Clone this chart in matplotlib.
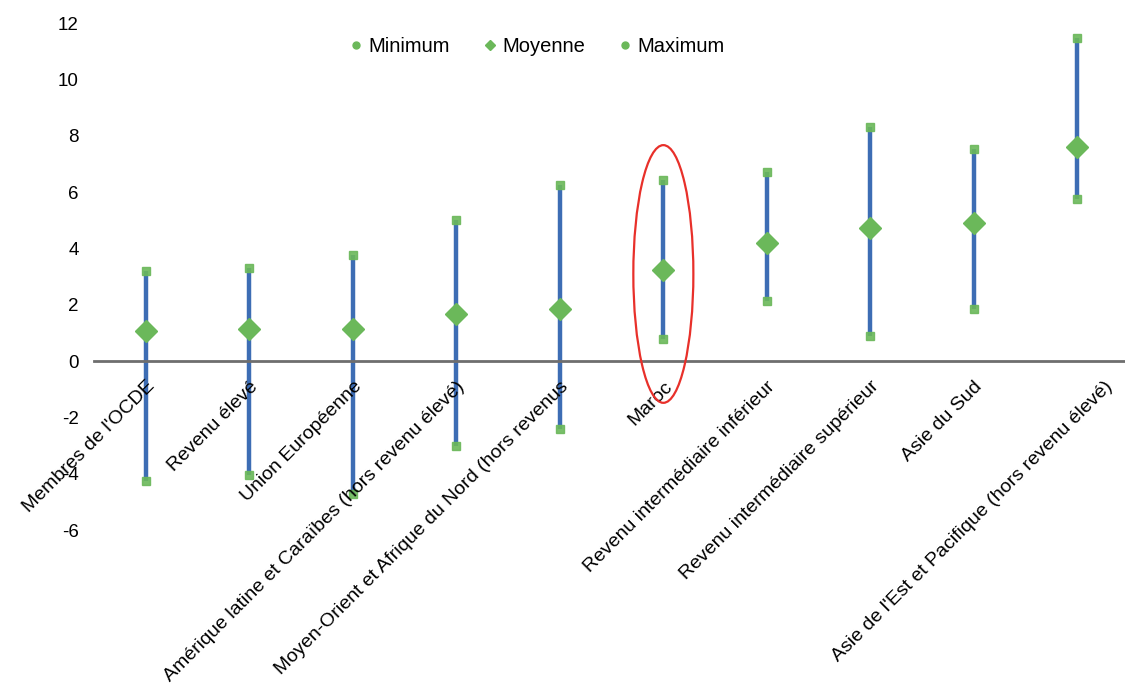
import matplotlib
matplotlib.use("Agg")
import matplotlib.pyplot as plt
from matplotlib.lines import Line2D
from matplotlib.patches import Ellipse

plt.rcParams["font.family"] = ["Liberation Sans", "DejaVu Sans"]

categories = [
    "Membres de l'OCDE",
    "Revenu élevé",
    "Union Européenne",
    "Amérique latine et Caraïbes (hors revenu élevé)",
    "Moyen-Orient et Afrique du Nord (hors revenus",
    "Maroc",
    "Revenu intermédiaire inférieur",
    "Revenu intermédiaire supérieur",
    "Asie du Sud",
    "Asie de l'Est et Pacifique (hors revenu élevé)",
]
minimum = [-4.25, -4.05, -4.7, -3.0, -2.4, 0.8, 2.15, 0.9, 1.85, 5.75]
moyenne = [1.08, 1.14, 1.15, 1.68, 1.86, 3.23, 4.2, 4.72, 4.92, 7.62]
maximum = [3.22, 3.3, 3.76, 5.03, 6.27, 6.43, 6.71, 8.33, 7.53, 11.47]
yticks = [-6, -4, -2, 0, 2, 4, 6, 8, 10, 12]

GREEN = "#6bb85a"
BLUE = "#3d6db4"

fig = plt.figure(figsize=(11.25, 6.86), dpi=100)
ax = fig.add_axes([0.0836, 0.227, 0.9164, 0.739])

x = list(range(len(categories)))
ax.vlines(x, minimum, maximum, color=BLUE, lw=3.2, zorder=2)
ax.plot(x, minimum, ls="none", marker="s", ms=6, color=GREEN, alpha=0.9, zorder=3)
ax.plot(x, maximum, ls="none", marker="s", ms=6, color=GREEN, alpha=0.9, zorder=3)
ax.plot(x, moyenne, ls="none", marker="D", ms=11, color=GREEN, zorder=4)

# highlight Morocco
i = categories.index("Maroc")
ax.add_patch(Ellipse((i, 3.1), width=0.58, height=9.15, fill=False,
                     edgecolor="#e8302a", lw=1.6, zorder=5))

ax.set_xlim(-0.5, 9.46)
ax.set_ylim(-6, 12)
ax.set_yticks(yticks)
ax.set_yticklabels([str(t) for t in yticks], fontsize=13.5)
ax.tick_params(axis="y", length=0, pad=11)

ax.spines["bottom"].set_position(("data", 0))
ax.spines["bottom"].set_color("#6e6e6e")
ax.spines["bottom"].set_linewidth(2)
for s in ("left", "top", "right"):
    ax.spines[s].set_visible(False)

# category labels hang from the zero line; the last one sits a bit to the right
ax.set_xticks(x)
ax.set_xticklabels([])
ax.tick_params(axis="x", length=0)
for xi, name in zip(x, categories):
    dx = 19 if xi == x[-1] else 0
    ax.annotate(name, xy=(xi, 0), xytext=(dx, -12), textcoords="offset points",
                rotation=45, ha="right", va="top", rotation_mode="anchor",
                fontsize=14.0, annotation_clip=False)

handles = [
    Line2D([], [], ls="none", marker="o", ms=5, color=GREEN, label="Minimum"),
    Line2D([], [], ls="none", marker="D", ms=5, color=GREEN, label="Moyenne"),
    Line2D([], [], ls="none", marker="o", ms=5, color=GREEN, label="Maximum"),
]
ax.legend(handles=handles, loc="center", bbox_to_anchor=(0.428, 0.955), ncol=3,
          frameon=False, fontsize=14.5, handletextpad=0.1, columnspacing=1.5,
          handlelength=1.0)

fig.savefig("out.png", dpi=100)
